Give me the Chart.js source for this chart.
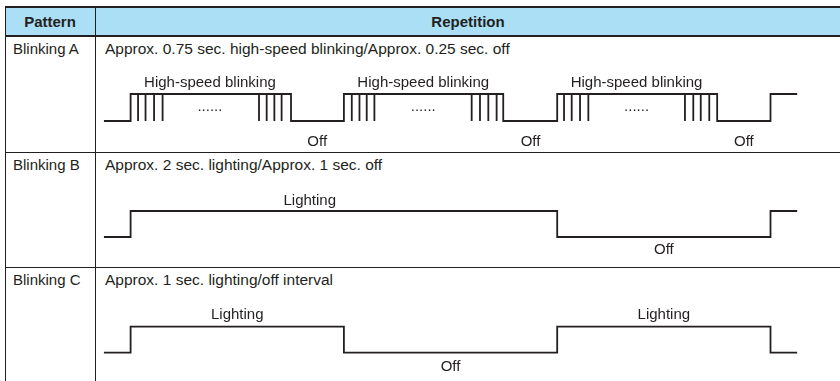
<!DOCTYPE html>
<html>
<head>
<meta charset="utf-8">
<script src="https://cdn.jsdelivr.net/npm/chart.js@4.4.0/dist/chart.umd.min.js"></script>
<style>
  body { margin: 0; width: 840px; height: 381px; overflow: hidden; background: #fff;
         font-family: "Liberation Sans", Arial, sans-serif; color: #231f20; }
  .hdr { position: absolute; background: #aadff6; left: 5px; top: 7px; width: 835px; height: 29px; }
  .hline { position: absolute; background: #231f20; left: 5px; width: 835px; }
  .vline { position: absolute; background: #231f20; width: 1px; top: 7px; height: 374px; }
  .txt { position: absolute; font-size: 15px; line-height: 17px; white-space: nowrap; }
  .desc { font-size: 15.5px; }
  .bold { font-weight: bold; }
  .wave { position: absolute; left: 96px; }
</style>
</head>
<body>
<div class="hdr"></div>
<div class="hline" style="top:6px;height:2px"></div>
<div class="hline" style="top:35px;height:2px"></div>
<div class="hline" style="top:152px;height:1px"></div>
<div class="hline" style="top:267px;height:1px"></div>
<div class="vline" style="left:5px"></div>
<div class="vline" style="left:95px"></div>
<div id="texts"></div>
<canvas id="waveA" class="wave" width="744" height="86" style="top:66px"></canvas>
<canvas id="waveB" class="wave" width="744" height="85" style="top:182px"></canvas>
<canvas id="waveC" class="wave" width="744" height="84" style="top:297px"></canvas>
<script>
// table text
const headers = ['Pattern', 'Repetition'];
const patterns = ['Blinking A', 'Blinking B', 'Blinking C'];
const descriptions = [
    'Approx. 0.75 sec. high-speed blinking/Approx. 0.25 sec. off',
    'Approx. 2 sec. lighting/Approx. 1 sec. off',
    'Approx. 1 sec. lighting/off interval'
];

// Blinking A: level changes (sec, 0 = off / 1 = on) and the short off pulses in each burst
const aEdgeTimes  = [-0.125, 0, 0.752, 1, 1.747, 2, 2.75, 3, 3.125];
const aEdgeLevels = [0, 1, 0, 1, 0, 1, 0, 1, 1];
const aPulseTimes = [0.035, 0.07, 0.11, 0.15, 0.602, 0.638, 0.674, 0.708,
                     1.037, 1.073, 1.107, 1.143, 1.599, 1.638, 1.677, 1.716,
                     2.032, 2.068, 2.107, 2.146, 2.599, 2.638, 2.673, 2.713];
const aLabels      = ['High-speed blinking', '......', 'Off',
                      'High-speed blinking', '......', 'Off',
                      'High-speed blinking', '......', 'Off'];
const aLabelTimes  = [0.372, 0.372, 0.875, 1.372, 1.372, 1.875, 2.372, 2.372, 2.875];
const aLabelLevels = [1.41, 0.52, -0.78, 1.41, 0.52, -0.78, 1.41, 0.52, -0.78];

// Blinking B
const bEdgeTimes   = [-0.125, 0, 2, 3, 3.125];
const bEdgeLevels  = [0, 1, 0, 1, 1];
const bLabels      = ['Lighting', 'Off'];
const bLabelTimes  = [0.84, 2.5];
const bLabelLevels = [1.38, -0.5];

// Blinking C
const cEdgeTimes   = [-0.125, 0, 1, 2, 3, 3.125];
const cEdgeLevels  = [0, 1, 0, 1, 0, 0];
const cLabels      = ['Lighting', 'Off', 'Lighting'];
const cLabelTimes  = [0.5, 1.5, 2.5];
const cLabelLevels = [1.45, -0.54, 1.45];

const ink = '#231f20';

// write the table text
var texts = document.getElementById('texts');
function addText(str, left, top, cls, center) {
    var d = document.createElement('div');
    d.className = 'txt ' + cls;
    d.textContent = str;
    d.style.top = top + 'px';
    if (center) {
        d.style.left = (left - 200) + 'px';
        d.style.width = '400px';
        d.style.textAlign = 'center';
    } else {
        d.style.left = left + 'px';
    }
    texts.appendChild(d);
}
addText(headers[0], 50, 13, 'bold', true);
addText(headers[1], 468, 13, 'bold', true);
var rowTops = [40, 156, 271];
patterns.forEach((p, i) => {
    addText(p, 13, rowTops[i], '', false);
    addText(descriptions[i], 105, rowTops[i], 'desc', false);
});

// labels above / below the wave, placed on the chart's own scales
function labelPlugin(words, times, levels) {
    return {
        id: 'waveLabels',
        afterDraw(chart) {
            var ctx = chart.ctx;
            ctx.save();
            ctx.font = '15px "Liberation Sans", Arial, sans-serif';
            ctx.fillStyle = ink;
            ctx.textAlign = 'center';
            ctx.textBaseline = 'middle';
            words.forEach((w, i) => {
                ctx.fillText(w, chart.scales.x.getPixelForValue(times[i]),
                                chart.scales.y.getPixelForValue(levels[i]));
            });
            ctx.restore();
        }
    };
}

// x: 1 sec = 213.3 px, rise at t=0 sits at page x 130.6; canvases start at x 96
var pxPerSec = 213.3, zeroX = 130.6, left = 96, width = 744;

function makeWave(id, pts, words, times, levels, top, height, yHigh, yLow) {
    var unit = yLow - yHigh;
    return new Chart(document.getElementById(id), {
        type: 'line',
        data: {
            datasets: [{
                data: pts,
                borderColor: ink,
                borderWidth: 1.8,
                pointRadius: 0,
                stepped: true,
                fill: false
            }]
        },
        options: {
            responsive: false,
            animation: false,
            events: [],
            layout: { padding: 0 },
            plugins: { legend: { display: false }, tooltip: { enabled: false } },
            scales: {
                x: { type: 'linear', display: false,
                     min: (left - zeroX) / pxPerSec, max: (left + width - zeroX) / pxPerSec },
                y: { display: false,
                     min: -(top + height - yLow) / unit, max: 1 + (yHigh - top) / unit }
            }
        },
        plugins: [labelPlugin(words, times, levels)]
    });
}

function edges(times, levels) {
    return times.map((t, i) => ({ x: t, y: levels[i] }));
}

var ptsA = edges(aEdgeTimes, aEdgeLevels);
aPulseTimes.forEach(t => { ptsA.push({ x: t, y: 0 }); ptsA.push({ x: t, y: 1 }); });
ptsA.sort((a, b) => a.x - b.x);

makeWave('waveA', ptsA, aLabels, aLabelTimes, aLabelLevels, 66, 86, 94, 121);
makeWave('waveB', edges(bEdgeTimes, bEdgeLevels), bLabels, bLabelTimes, bLabelLevels, 182, 85, 211, 237);
makeWave('waveC', edges(cEdgeTimes, cEdgeLevels), cLabels, cLabelTimes, cLabelLevels, 297, 84, 326.7, 352.7);
</script>
</body>
</html>
